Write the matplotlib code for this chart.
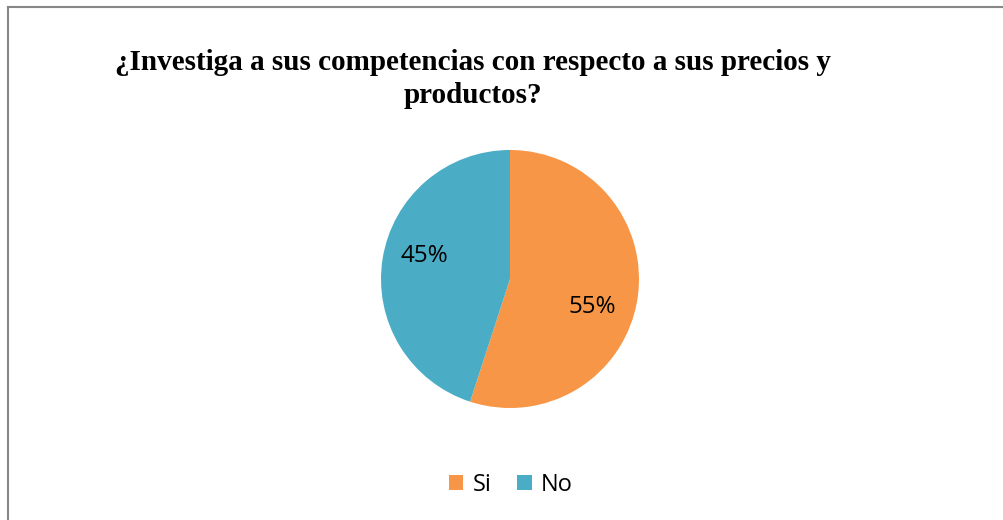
import matplotlib
matplotlib.use("Agg")
import matplotlib.pyplot as plt
from matplotlib.lines import Line2D

categories = ["Si", "No"]
values = [55, 45]
colors = ["#F79646", "#4BACC6"]
title = "¿Investiga a sus competencias con respecto a sus precios y\nproductos?"

W, H = 1004, 520
fig = plt.figure(figsize=(W / 100, H / 100), dpi=100)

# pie centred at (510, 279) px, radius ~129 px
r = 129
cx, cy = 510, 279
side = 2 * 1.25 * r
ax = fig.add_axes([(cx - side / 2) / W, (H - cy - side / 2) / H, side / W, side / H])
wedges, texts, autotexts = ax.pie(values, colors=colors, startangle=90, counterclock=False,
                                  autopct="%1.0f%%", pctdistance=0.68,
                                  wedgeprops=dict(linewidth=0),
                                  textprops=dict(fontsize=17.5, family="Open Sans", color="black"))
ax.set_xlim(-1.25, 1.25)
ax.set_ylim(-1.25, 1.25)
ax.set_aspect("equal")

# nudge labels a bit like excel's best fit
x, y = autotexts[0].get_position()
autotexts[0].set_position((x - 0.03, y - 0.11))
x, y = autotexts[1].get_position()
autotexts[1].set_position((x + 0.01, y + 0.07))

fig.text(473 / W, 1 - 79 / H, title, ha="center", va="center", fontsize=21,
         fontweight="bold", family="Liberation Serif", linespacing=1.33)

fig.legend(wedges, categories, loc="center", bbox_to_anchor=(511 / W, 1 - 485 / H),
           ncol=2, frameon=False, prop=dict(family="Open Sans", size=17),
           handlelength=0.6, handleheight=0.6, handletextpad=0.4, columnspacing=1.1)

# outer border (only top and left visible)
fig.add_artist(Line2D([8 / W, 1.0], [1 - 6.5 / H, 1 - 6.5 / H], color="#878787", linewidth=1.5))
fig.add_artist(Line2D([8 / W, 8 / W], [0.0, 1 - 6.5 / H], color="#878787", linewidth=1.5))

fig.savefig("out.png", dpi=100)
